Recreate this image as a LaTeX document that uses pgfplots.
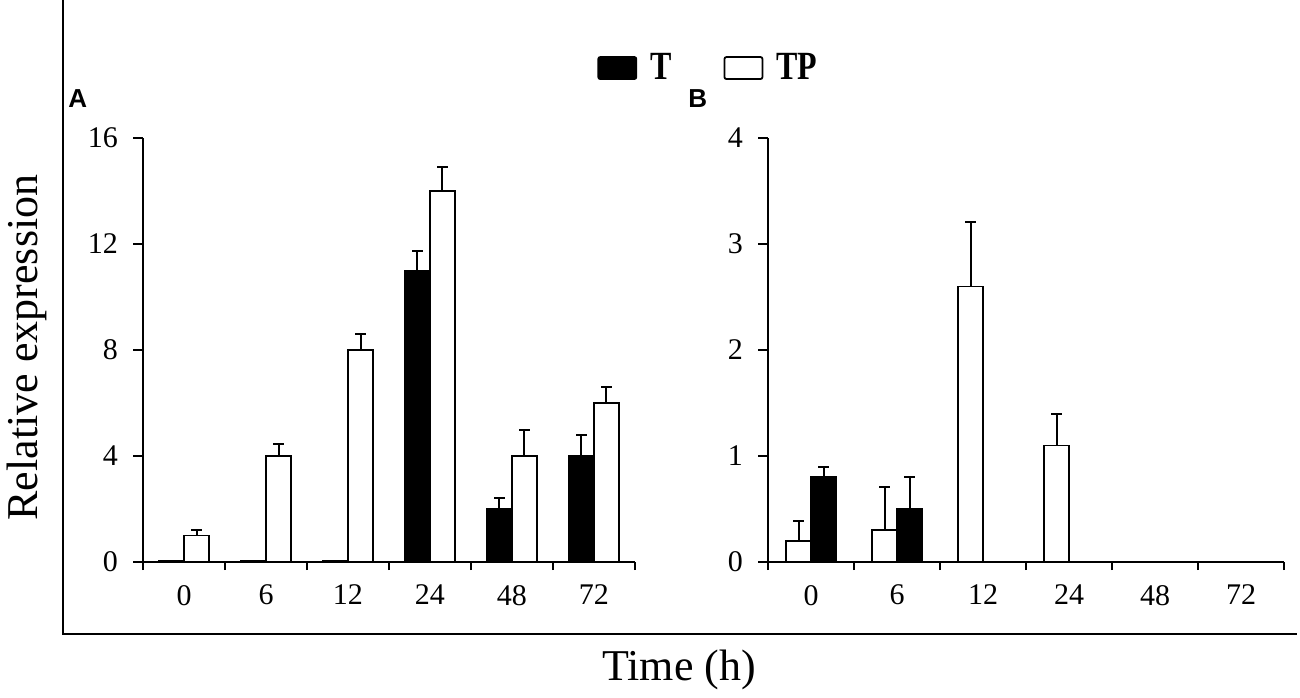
\documentclass[border=0pt]{standalone}
\usepackage{fontspec}
\setmainfont{Liberation Serif}
\newfontfamily\labelfont{Liberation Sans}
\usepackage{graphicx}
\usepackage{pgfplots}
\pgfplotsset{compat=1.18}

\pgfplotstableread{
x T Terr TP TPerr
0 0.04 0 1 0.22
1 0.04 0 4 0.45
2 0.04 0 8 0.6
3 11 0.75 14 0.9
4 2 0.4 4 1.0
5 4 0.8 6 0.6
}\dataA

\pgfplotstableread{
x T Terr
3 11 0.75
4 2 0.4
5 4 0.8
}\dataAerr

\pgfplotstableread{
x TP TPerr
0 0.2 0.19
1 0.3 0.41
2 2.6 0.61
3 1.1 0.3
}\dataBTP

\pgfplotstableread{
x T Terr
0 0.8 0.1
1 0.5 0.3
}\dataBT

\pgfplotsset{
  mybar/.style={
    scale only axis,
    ybar=0pt, bar width=12.5pt,
    legend image code/.code={\draw[#1,line width=0.9pt,rounded corners=1pt] (0pt,-5.5pt) rectangle (19pt,5.5pt);},
    axis lines*=left,
    axis line style={line width=1pt,-},
    xmin=-0.5, xmax=5.5, ymin=0,
    xtick={0,...,5}, xticklabels={0,6,12,24,48,72},
    major x tick style={draw=none},
    minor xtick={-0.5,0.5,...,5.5},
    minor tick length=4pt,
    major tick length=5pt,
    tick align=outside,
    tick style={line width=1pt,black},
    ticklabel style={font=\fontsize{15}{18}\selectfont},
    /pgf/number format/assume math mode=true,
    xticklabel style={yshift=-3pt},
    yticklabel style={xshift=-4pt},
    error bars/y dir=plus, error bars/y explicit,
    error bars/error mark options={rotate=90, mark size=2.6pt, line width=1pt, black},
    error bars/error bar style={line width=1pt, black},
  },
  Tbar/.style={fill=black, draw=black, line width=0.9pt},
  TPbar/.style={fill=white, draw=black, line width=0.9pt},
}

\begin{document}
\begin{tikzpicture}
\path[use as bounding box] (0,0) rectangle (650pt,348.5pt);
\draw[line width=1.2pt] (31.5pt,348.5pt) -- (31.5pt,31.5pt) -- (648.5pt,31.5pt);

\begin{axis}[mybar, anchor=south west, at={(71.5pt,67.5pt)},
  width=246pt, height=212pt, ymax=16, ytick={0,4,8,12,16},
  legend columns=2,
  legend style={draw=none, fill=none, at={(0.9228,1.165)}, anchor=west,
    font=\fontsize{20}{22}\selectfont\bfseries, inner sep=0pt,
    /tikz/every odd column/.append style={column sep=4.5pt},
    /tikz/every even column/.append style={column sep=24pt}},
  ]
\addplot[Tbar, error bars/y dir=none] table[x=x,y=T]{\dataA};
\addplot[TPbar] table[x=x,y=TP,y error=TPerr]{\dataA};
\legend{\scalebox{0.8}[1]{T},\scalebox{0.8}[1]{TP}}
\addplot[Tbar, bar shift=-6.25pt, forget plot] table[x=x,y=T,y error=Terr]{\dataAerr};
\end{axis}

\begin{axis}[mybar, anchor=south west, at={(384pt,67.5pt)},
  width=258pt, height=212pt, ymax=4, ytick={0,1,2,3,4},
  ]
\addplot[TPbar] table[x=x,y=TP,y error=TPerr]{\dataBTP};
\addplot[Tbar] table[x=x,y=T,y error=Terr]{\dataBT};
\end{axis}

\node[rotate=90, font=\fontsize{22}{26}\selectfont] at (13.5pt,174.75pt) {Relative expression};
\node[anchor=base, font=\fontsize{22}{26}\selectfont] at (339.5pt,8.5pt) {Time (h)};
\node[anchor=base west, inner sep=0pt, font=\labelfont\bfseries\fontsize{13}{15}\selectfont] at (34pt,294.5pt) {A};
\node[anchor=base west, inner sep=0pt, font=\labelfont\bfseries\fontsize{13}{15}\selectfont] at (344pt,294.5pt) {B};
\end{tikzpicture}
\end{document}
